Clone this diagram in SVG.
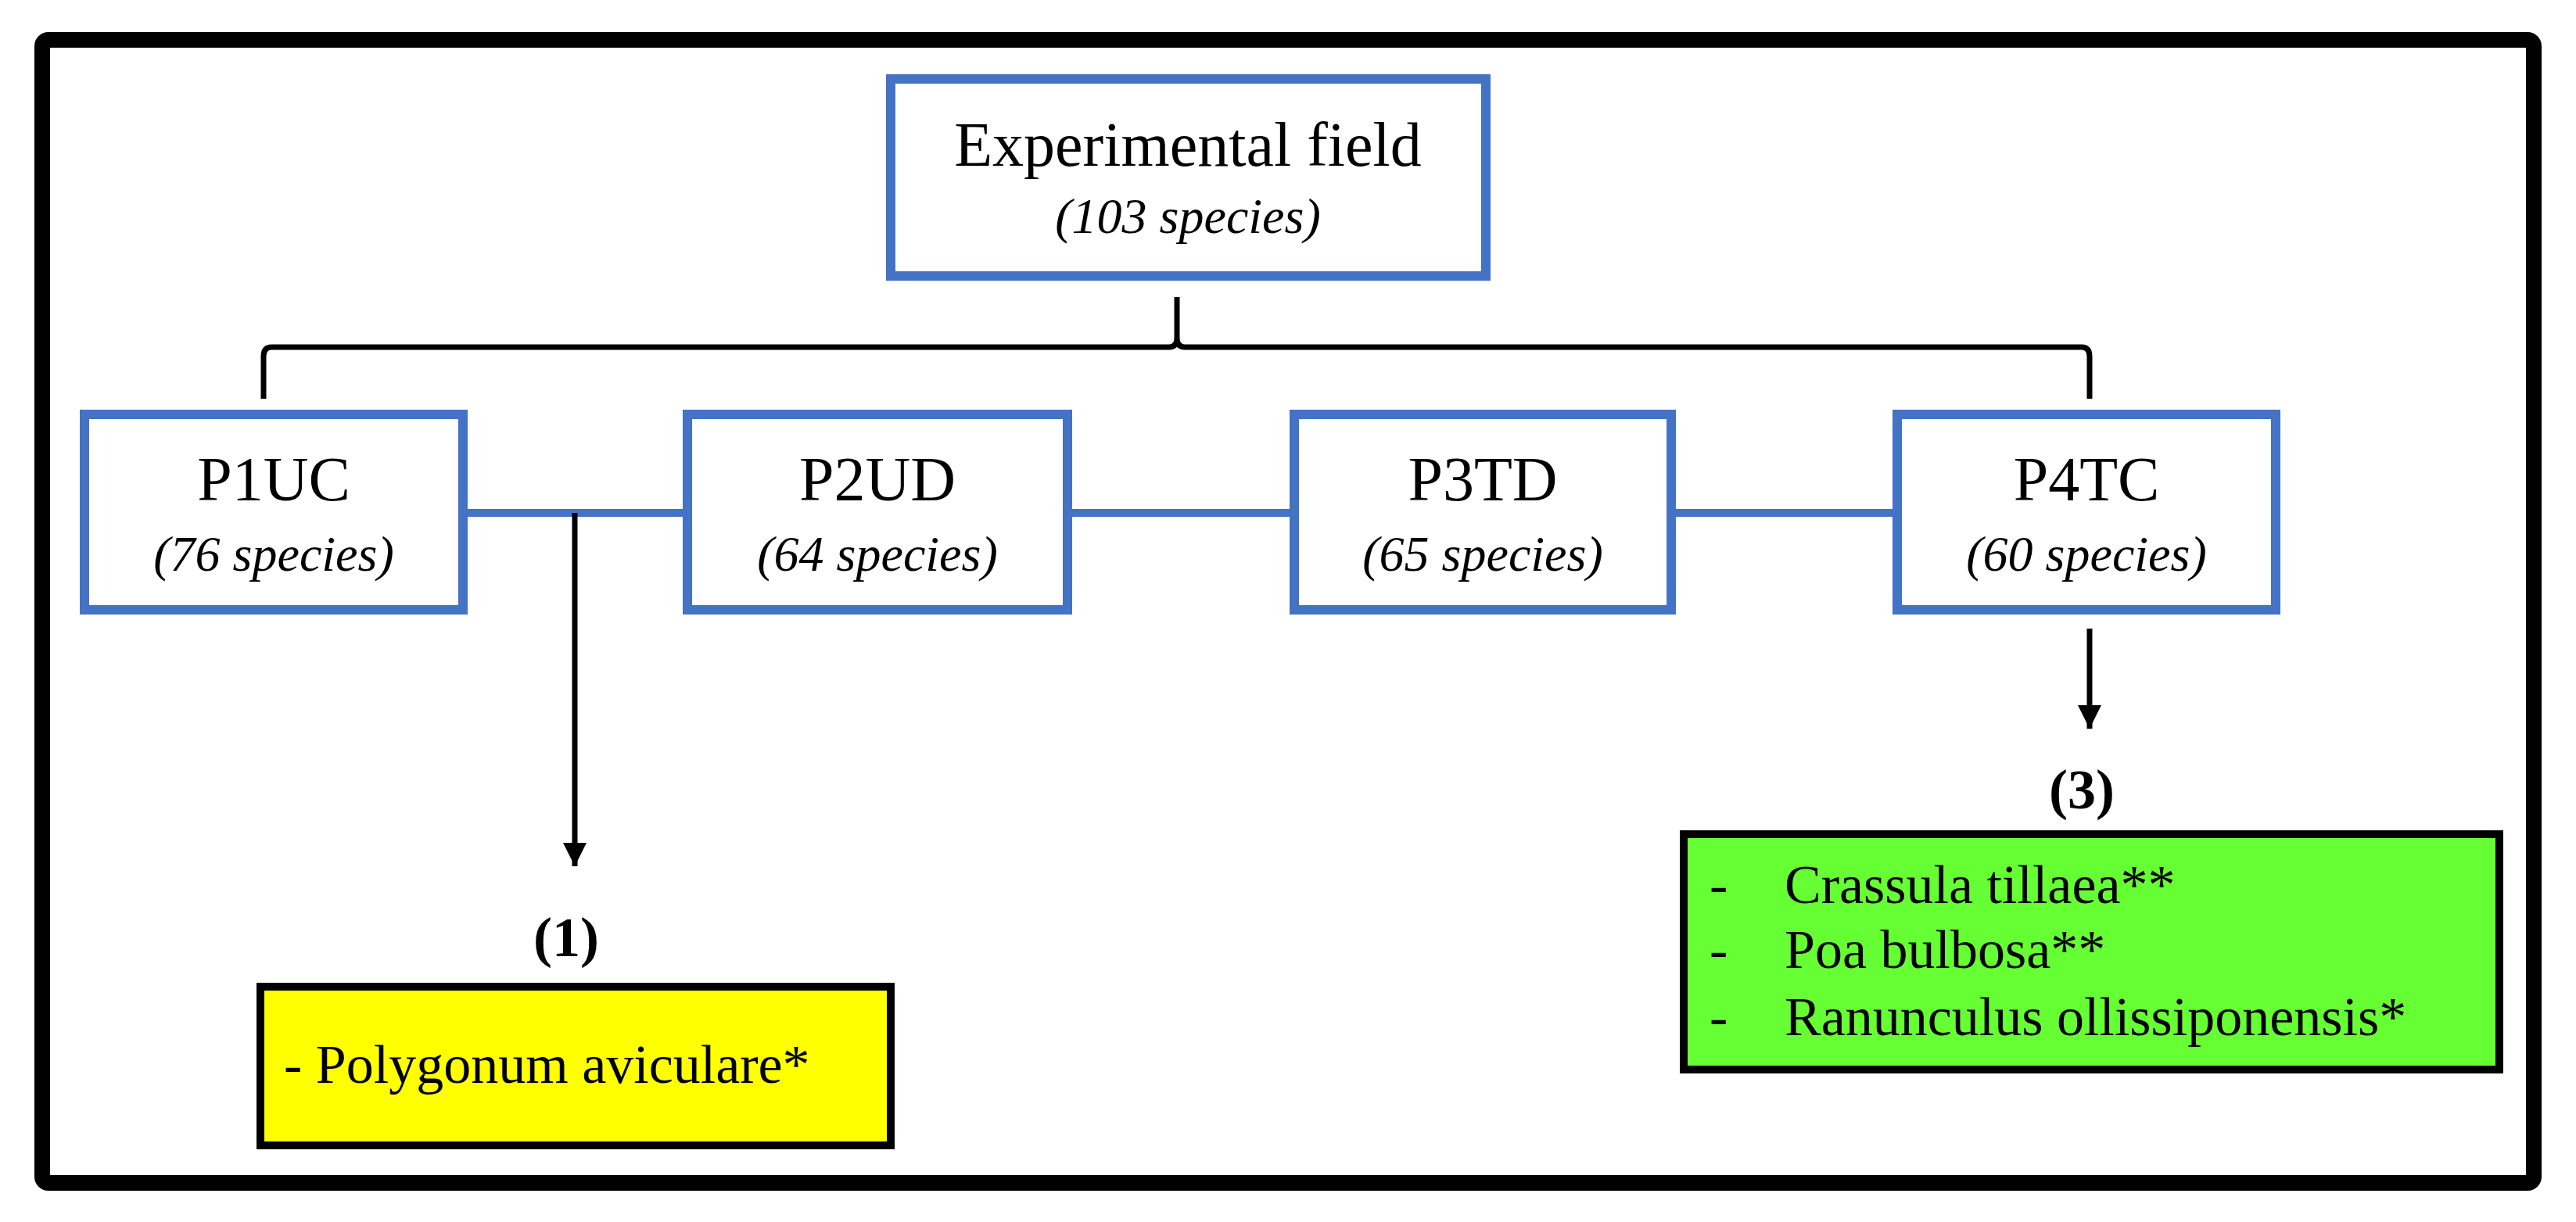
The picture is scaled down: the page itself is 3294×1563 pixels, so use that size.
<svg xmlns="http://www.w3.org/2000/svg" width="3294" height="1563" viewBox="0 0 3294 1563">
<defs>
<style>
.bx{fill:#fff;stroke:#4472C4;stroke-width:12}
.t{font-family:"Liberation Serif",serif;fill:#000;text-anchor:middle}
.m{font-size:80px}
.s{font-size:64px;font-style:italic}
.b{font-size:72px;font-weight:bold}
.l{font-size:70px}
.bl{stroke:#4472C4;stroke-width:10;fill:none}
.k{stroke:#000;stroke-width:7;fill:none}
</style>
<marker id="ah" viewBox="0 0 10 10" refX="10" refY="5" markerWidth="30" markerHeight="30" markerUnits="userSpaceOnUse" orient="auto"><path d="M0,0 L10,5 L0,10 z" fill="#000"/></marker>
</defs>
<rect x="0" y="0" width="3294" height="1563" fill="#fff"/>
<rect id="frame" x="54" y="51" width="3186" height="1462" rx="8" fill="none" stroke="#000" stroke-width="20"/>
<g id="connectors">
<path class="bl" d="M592,656 H879 M1365,656 H1655 M2137,656 H2426"/>
<path class="k" d="M1505,380 V432 Q1505,444 1495,444 H347 Q337,444 337,456 V510 M1505,432 Q1505,444 1515,444 H2662 Q2672,444 2672,456 V510"/>
<path class="k" d="M735,656 V1108" marker-end="url(#ah)"/>
<path class="k" d="M2672,804 V932" marker-end="url(#ah)"/>
</g>
<g id="field"><rect class="bx" x="1139" y="101" width="761" height="252"/>
<text class="t m" x="1519" y="212">Experimental field</text>
<text class="t s" x="1519" y="298">(103 species)</text></g>
<g id="p1"><rect class="bx" x="108" y="530" width="484" height="250"/>
<text class="t m" x="350" y="640">P1UC</text><text class="t s" x="350" y="730">(76 species)</text></g>
<g id="p2"><rect class="bx" x="879" y="530" width="486" height="250"/>
<text class="t m" x="1122" y="640">P2UD</text><text class="t s" x="1122" y="730">(64 species)</text></g>
<g id="p3"><rect class="bx" x="1655" y="530" width="482" height="250"/>
<text class="t m" x="1896" y="640">P3TD</text><text class="t s" x="1896" y="730">(65 species)</text></g>
<g id="p4"><rect class="bx" x="2426" y="530" width="484" height="250"/>
<text class="t m" x="2668" y="640">P4TC</text><text class="t s" x="2668" y="730">(60 species)</text></g>
<g id="g1"><text class="t b" x="724" y="1223">(1)</text>
<rect x="333" y="1262" width="806" height="203" fill="#FFFF00" stroke="#000" stroke-width="10"/>
<text class="t l" x="363" y="1385" text-anchor="start" style="text-anchor:start">- Polygonum aviculare*</text></g>
<g id="g3"><text class="t b" x="2662" y="1034">(3)</text>
<rect x="2153" y="1067" width="1043" height="301" fill="#66FF33" stroke="#000" stroke-width="10"/>
<text class="t l" style="text-anchor:start"><tspan x="2186" y="1155">-</tspan><tspan x="2282" y="1155">Crassula  tillaea**</tspan><tspan x="2186" y="1238">-</tspan><tspan x="2282" y="1238">Poa bulbosa**</tspan><tspan x="2186" y="1324">-</tspan><tspan x="2282" y="1324">Ranunculus  ollissiponensis*</tspan></text></g>
</svg>
